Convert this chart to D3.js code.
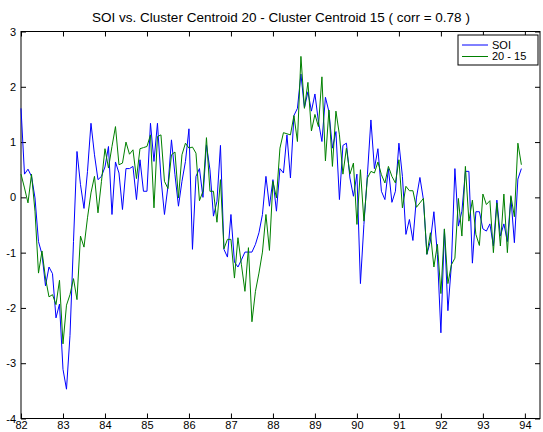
<!DOCTYPE html>
<html>
<head>
<meta charset="utf-8">
<script src="https://cdn.jsdelivr.net/npm/d3@7"></script>
<style>
  body { margin: 0; background: #fff; }
  svg { font-family: "Liberation Sans", Arial, sans-serif; }
</style>
</head>
<body>
<svg width="543" height="432"></svg>
<script>
// monthly values, Jan 1982 .. Dec 1993
const startYear = 82;
const yearTicks = [82, 83, 84, 85, 86, 87, 88, 89, 90, 91, 92, 93, 94];
const valueTicks = [-4, -3, -2, -1, 0, 1, 2, 3];

const soi = [
  1.61, 0.42, 0.51, 0.38, -0.01, -0.8, -1.03, -1.6, -1.26, -1.38, -2.18, -1.93,
  -3.11, -3.47, -2.5, -0.8, 0.83, 0.23, -0.2, 0.47, 1.34, 0.77, 0.32, 0.38,
  0.55, 0.92, -0.31, 0.64, 0.44, -0.22, 0.52, 0.52, 0.56, -0.04, 0.68, 0.11,
  0.11, 1.34, 0.65, 1.34, 0.35, -0.31, 0.2, 1.04, 0.41, -0.16, 0.29, 0.65,
  1.24, -0.94, 0.38, 0.52, 0.0, 0.95, 0.5, -0.34, -0.07, 0.94, -0.94, -1.08,
  -0.31, -1.17, -1.26, -1.13, -0.99, -0.99, -0.99, -0.85, -0.64, -0.31, 0.38, -0.16,
  0.32, -0.25, 0.52, 0.44, 1.13, 0.35, 1.48, 1.61, 2.23, 1.62, 1.91, 1.56,
  1.87, 1.37, 1.01, 1.81, 1.55, 0.89, 1.19, -0.04, 0.94, 0.98, 0.35, 0.02,
  0.42, -1.56, -0.49, 0.41, 1.4, 0.52, 0.88, 0.11, -0.04, 0.52, -0.09, 0.11,
  0.98, 0.38, -0.67, -0.4, -0.78, -0.01, 0.36, -0.04, -1.03, -0.79, -0.26, -1.03,
  -2.45, -0.58, -2.05, -1.22, 0.52, -0.52, -0.25, 0.47, 0.47, -1.19, -0.26, -0.26,
  -0.57, -0.61, -0.48, -0.88, -0.05, -0.7, -0.48, -0.8, 0.0, -0.82, 0.33, 0.52
];

const diff2015 = [
  0.42, 0.17, -0.1, 0.42, -0.25, -1.37, -0.97, -1.46, -1.8, -1.76, -1.94, -1.5,
  -2.65, -1.95, -1.76, -1.47, -1.85, -0.7, -0.9, -0.37, 0.08, 0.38, -0.28, 0.29,
  0.88, 0.53, 0.92, 1.28, 0.59, 0.62, 1.0, 0.78, 0.86, 0.34, 0.88, 0.9,
  0.92, 1.13, -0.19, 1.1, 1.13, 0.29, 0.16, 0.77, 0.82, -0.01, 0.77, 0.98,
  0.89, 0.91, 0.8, -0.06, 0.11, 1.08, 0.11, 0.11, -0.45, 0.32, -0.93, -0.76,
  -0.76, -1.46, -0.73, -1.22, -1.7, -0.91, -2.25, -1.7, -1.37, -0.99, -0.31, -0.96,
  0.29, -0.01, 0.89, 1.17, 1.15, 1.13, 1.48, 1.01, 2.55, 1.61, 2.08, 1.2,
  1.5, 1.28, 2.18, 0.66, 1.58, 0.56, 1.56, 1.13, 0.42, 0.89, 0.42, 0.62,
  -0.49, 0.5, -0.43, 0.35, 0.47, 0.44, 0.64, 0.41, 0.26, 0.56, 0.38, 0.26,
  0.68, -0.19, 0.2, 0.12, 0.12, -0.18, -0.1, -0.02, -1.03, -0.64, -1.26, -0.85,
  -1.74, -0.57, -1.56, -1.22, -1.1, -0.02, -0.7, 0.56, -0.43, -0.05, -0.67, -0.87,
  0.06, -0.13, -0.06, -1.0, -0.1, -0.88, 0.06, -1.0, 0.03, -0.35, 0.98, 0.59
];

const series = [
  { name: 'SOI', values: soi, color: '#0000ff' },
  { name: '20 - 15', values: diff2015, color: '#008000' }
];

const svg = d3.select('svg');
const plotL = 21, plotR = 540, plotT = 31.5, plotB = 418.5;

const x = d3.scaleLinear().domain([82, 94.36]).range([plotL, plotR]);
const y = d3.scaleLinear().domain([-4, 3]).range([plotB, plotT]);

svg.append('text')
  .attr('x', 281).attr('y', 22)
  .attr('text-anchor', 'middle')
  .attr('font-size', 13.5)
  .text('SOI vs. Cluster Centroid 20 - Cluster Centroid 15 ( corr = 0.78 )');

const axisStyle = (g) => {
  g.select('.domain').remove();
  g.selectAll('line').attr('stroke', '#000');
  g.selectAll('text').attr('font-size', 11).attr('fill', '#000');
};

svg.append('g').attr('transform', `translate(0,${plotB})`)
  .call(d3.axisBottom(x).tickValues(yearTicks).tickFormat(d3.format('d'))
    .tickSize(-5).tickSizeOuter(0).tickPadding(3))
  .call(axisStyle);
svg.append('g').attr('transform', `translate(0,${plotT})`)
  .call(d3.axisTop(x).tickValues(yearTicks).tickSize(-5).tickSizeOuter(0).tickFormat(''))
  .call(axisStyle);
svg.append('g').attr('transform', `translate(${plotL},0)`)
  .call(d3.axisLeft(y).tickValues(valueTicks).tickFormat((d) => String(d))
    .tickSize(-5).tickSizeOuter(0).tickPadding(5))
  .call(axisStyle);
svg.append('g').attr('transform', `translate(${plotR},0)`)
  .call(d3.axisRight(y).tickValues(valueTicks).tickSize(-5).tickSizeOuter(0).tickFormat(''))
  .call(axisStyle);

svg.append('rect')
  .attr('x', plotL).attr('y', plotT)
  .attr('width', plotR - plotL).attr('height', plotB - plotT)
  .attr('fill', 'none').attr('stroke', '#000').attr('stroke-width', 1);

const line = d3.line()
  .x((d, i) => x(startYear + i / 12))
  .y((d) => y(d));

svg.selectAll('.series')
  .data(series)
  .enter()
  .append('path')
  .attr('class', 'series')
  .attr('d', (d) => line(d.values))
  .attr('fill', 'none')
  .attr('stroke', (d) => d.color)
  .attr('stroke-width', 1);

// legend
const lg = svg.append('g').attr('transform', 'translate(458,35)');
lg.append('rect')
  .attr('width', 80).attr('height', 30)
  .attr('fill', '#fff').attr('stroke', '#000');
series.forEach((s, i) => {
  lg.append('line')
    .attr('x1', 4).attr('x2', 30)
    .attr('y1', 10 + i * 11.5).attr('y2', 10 + i * 11.5)
    .attr('stroke', s.color);
  lg.append('text')
    .attr('x', 34).attr('y', 10 + i * 11.5)
    .attr('dy', '0.35em')
    .attr('font-size', 11)
    .text(s.name);
});
</script>
</body>
</html>
